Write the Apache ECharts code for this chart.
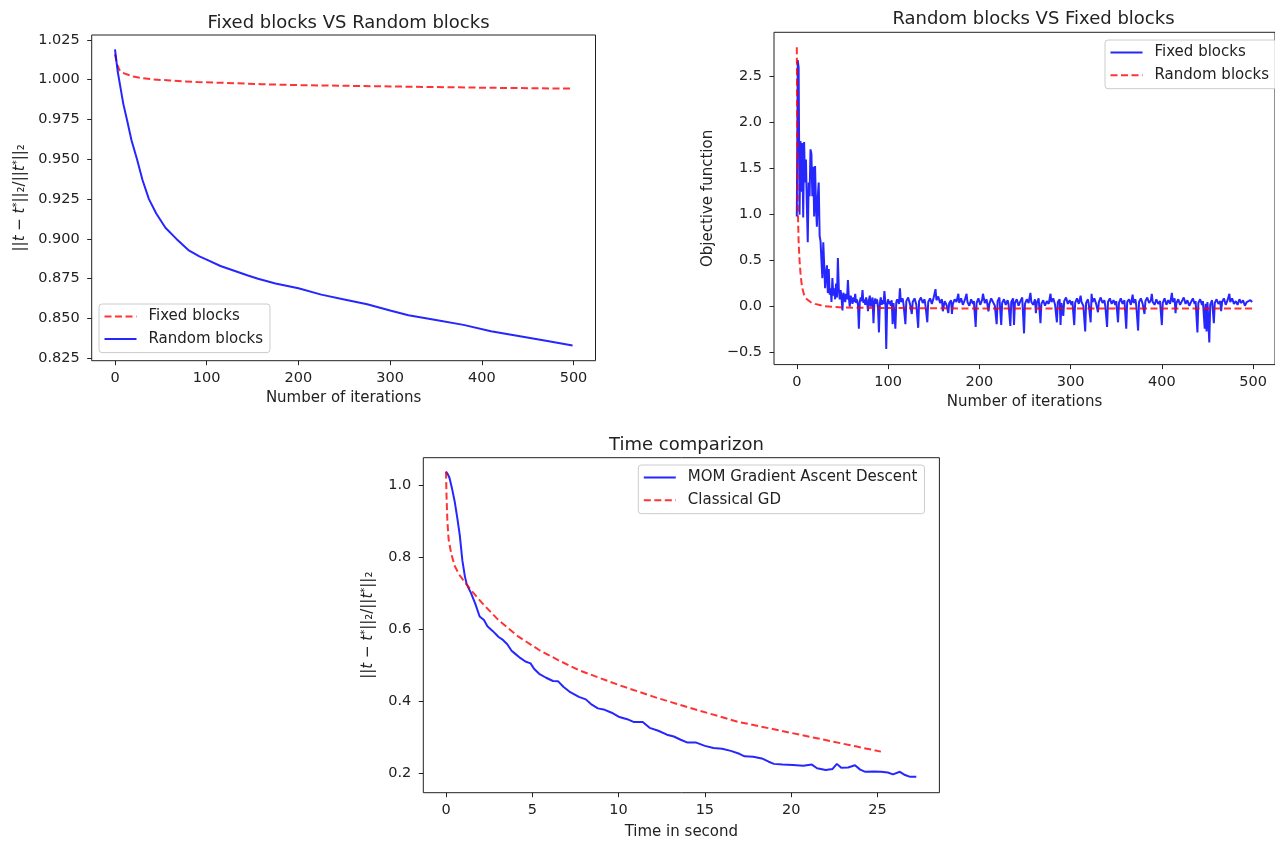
<!DOCTYPE html>
<html><head><meta charset="utf-8">
<script src="https://cdn.jsdelivr.net/npm/echarts@6.0.0/dist/echarts.min.js"></script>
<style>html,body{margin:0;padding:0;background:#fff}#c{width:1275px;height:841px}</style>
</head><body><div id="c"></div>
<script>
// ---------- Chart 1: Fixed blocks VS Random blocks ----------
const c1FixedIter = [0,2,5,10,15,20,30,40,60,90,120,160,200,250,300,350,400,450,499];
const c1FixedVal  = [1.016,1.010,1.006,1.004,1.003,1.002,1.001,1.0003,0.9995,0.9985,0.998,0.9972,0.9966,0.9962,0.9958,0.9954,0.995,0.9947,0.9944];
const c1RandomIter = [0,3,6,9,13,18,24,30,37,45,55,67,80,92,100,115,130,145,156,175,200,225,250,275,300,320,350,380,410,440,470,499];
const c1RandomVal  = [1.019,1.005,0.995,0.985,0.975,0.962,0.950,0.937,0.925,0.916,0.907,0.900,0.893,0.889,0.887,0.883,0.880,0.877,0.875,0.872,0.869,0.865,0.862,0.859,0.855,0.852,0.849,0.846,0.842,0.839,0.836,0.833];
const c1XTicks = [0,100,200,300,400,500];
const c1YTicks = [0.825,0.85,0.875,0.9,0.925,0.95,0.975,1.0,1.025];

// ---------- Chart 2: Random blocks VS Fixed blocks ----------
const c2FixedIter = [0,1,2,3,4,5,6,7,8,9,10,11,12,13,14,15,16,17,18,19,20,21,22,23,24,25,26,27,28,29,30,31,32,33,34,35,36,37,38,39,40,41,42,43,44,45,46,47,48,49,50,51,52,53,54,55,56,57,58,59,60,
61,62,63,64,65,66,67,68,69,70,71,72,73,74,75,76,77,78,79,80,81,82,83,84,85,86,87,88,89,90,91,92,93,94,95,96,97,98,99,100,
101,102,103,104,105,106,108,109,110,112,113,114,116,117,119,120,122,124,126,127,129,131,133,134,136,138,140,141,143,144,146,148,150,152,153,155,157,159,160,162,164,166,167,169,170,171,173,175,177,178,180,182,184,186,187,189,191,193,194,196,197,199,
201,203,204,206,208,210,211,213,215,217,219,220,222,224,225,227,229,231,232,234,235,237,238,239,241,243,245,247,249,250,252,254,256,257,259,261,262,263,265,267,268,270,272,274,276,278,279,281,283,285,286,288,289,290,292,293,295,297,299,
301,302,304,305,307,309,311,312,314,316,317,319,320,322,323,324,326,328,330,331,333,335,337,338,340,341,343,345,347,349,350,352,353,355,357,359,361,362,364,366,368,369,371,372,374,375,377,379,381,382,384,386,388,389,390,392,394,396,398,400,
401,403,405,407,409,411,412,414,415,416,418,420,422,424,426,428,430,432,434,436,437,439,440,442,444,445,447,448,449,450,452,453,455,457,458,460,462,464,465,466,468,470,472,474,475,477,479,481,483,485,487,489,491,493,495,497,499];
const c2FixedVal = [0.98,2.68,2.6,1.0,1.8,1.25,1.78,0.97,1.79,1.35,1.6,1.1,0.7,1.35,1.2,1.71,1.66,1.2,1.52,0.98,1.53,1.1,0.87,1.2,1.35,0.77,0.71,0.5,0.31,0.7,0.45,0.2,0.35,0.45,0.15,0.41,0.13,0.2,0.05,0.31,0.12,0.2,0.08,0.25,0.1,0.53,0.2,0.08,0.18,0.1,-0.04,0.15,0.12,0.05,0.14,0.08,0.29,0.1,0.0,0.12,0.08,
0.03,0.1,0.05,0.14,0.04,0.08,0.02,-0.24,0.05,0.1,0.06,0.18,0.04,0.08,0.02,0.1,0.05,-0.05,0.07,0.12,0.0,0.06,0.1,-0.18,0.05,0.09,0.03,0.08,-0.02,-0.28,0.04,0.1,0.02,0.07,0.03,0.17,0.05,-0.46,0.02,0.08,
0.03,0.06,0.01,0.07,-0.19,0.04,-0.24,0.05,0.08,0.03,0.2,0.05,0.09,0.02,-0.19,0.06,0.1,0.03,-0.08,0.05,0.09,0.02,-0.23,0.06,0.1,0.04,0.08,0.01,-0.17,0.05,0.09,0.03,0.1,0.19,0.07,0.11,0.04,0.08,-0.05,0.06,0.02,-0.07,0.04,0.07,-0.08,0.03,0.08,0.05,0.14,0.04,0.09,0.02,0.07,0.14,0.05,0.01,0.08,0.03,0.06,-0.22,0.04,0.09,
0.02,0.07,0.14,0.04,0.08,-0.05,0.03,0.09,0.05,0.01,-0.19,0.06,0.1,-0.2,0.04,0.08,0.02,0.07,0.03,-0.21,0.05,0.09,-0.2,0.04,0.08,0.01,0.06,0.1,-0.29,0.03,0.08,0.04,0.15,0.05,0.02,0.08,-0.07,0.04,0.09,-0.18,0.03,0.07,0.01,0.06,0.03,0.14,0.05,0.09,0.02,-0.17,0.05,0.08,-0.2,0.04,-0.1,0.06,0.1,0.03,0.07,
0.02,0.06,-0.2,0.04,0.09,0.03,0.12,0.05,0.01,-0.27,0.04,0.08,0.02,-0.17,0.14,0.05,0.09,0.03,-0.06,0.05,0.1,0.04,0.07,0.01,-0.22,0.05,0.09,0.03,0.07,0.02,0.06,-0.17,0.04,0.09,0.03,0.07,-0.24,0.05,0.08,0.02,0.13,0.04,0.08,0.01,-0.26,0.05,0.09,0.03,-0.08,0.06,0.1,0.04,0.07,0.14,0.05,0.02,0.08,0.03,0.06,-0.2,
0.04,0.09,0.02,0.07,0.03,0.15,0.05,0.09,-0.07,0.04,0.08,0.02,0.06,0.1,0.03,0.07,0.01,0.05,0.09,0.03,0.06,-0.28,0.04,0.08,0.02,0.06,-0.24,0.03,-0.27,0.05,-0.39,0.02,0.07,-0.18,0.04,0.08,0.03,0.06,-0.05,0.05,0.09,0.02,0.07,0.14,0.05,0.09,0.03,0.06,0.02,0.08,0.04,0.07,0.01,0.05,0.03,0.07,0.05];
const c2RandomIter = [0,1,2,3,4,5,6,8,10,15,20,30,50,100,200,300,400,499];
const c2RandomVal  = [2.82,1.1,0.7,0.5,0.37,0.27,0.2,0.13,0.09,0.05,0.03,0.005,-0.01,-0.015,-0.02,-0.02,-0.02,-0.02];
const c2YTicks = [-0.5,0,0.5,1.0,1.5,2.0,2.5];

// ---------- Chart 3: Time comparizon ----------
const c3MomTime = [0,0.1,0.2,0.35,0.5,0.65,0.8,0.95,1.1,1.2,1.45,1.7,1.95,2.2,2.4,2.7,3.05,3.3,3.55,3.8,4.0,4.3,4.6,4.9,5.1,5.4,5.8,6.2,6.5,6.8,7.2,7.7,8.1,8.4,8.8,9.2,9.6,10.0,10.5,10.9,11.4,11.8,12.3,12.8,13.2,13.6,14.0,14.5,15.0,15.5,16.0,16.5,17.0,17.3,17.8,18.3,18.7,19.0,19.5,20.1,20.7,21.2,21.5,22.0,22.4,22.65,22.9,23.3,23.7,24.0,24.3,24.8,25.2,25.6,25.9,26.3,26.6,26.9,27.25];
const c3MomVal  = [1.037,1.03,1.02,0.99,0.955,0.91,0.86,0.79,0.745,0.725,0.70,0.67,0.635,0.625,0.608,0.595,0.578,0.57,0.558,0.54,0.532,0.52,0.51,0.505,0.49,0.476,0.465,0.456,0.455,0.44,0.425,0.412,0.405,0.392,0.38,0.376,0.368,0.357,0.35,0.342,0.342,0.326,0.318,0.307,0.302,0.293,0.285,0.285,0.276,0.27,0.268,0.262,0.254,0.247,0.246,0.241,0.232,0.226,0.224,0.223,0.221,0.224,0.214,0.209,0.212,0.226,0.215,0.216,0.222,0.21,0.204,0.205,0.204,0.202,0.197,0.204,0.195,0.19,0.19];
const c3GdTime = [0,0.03,0.08,0.15,0.3,0.5,0.75,1.0,1.45,2.1,3.0,4.2,5.4,6.5,7.7,10.0,12.3,14.6,16.9,19.2,21.5,23.8,25.2];
const c3GdVal  = [1.037,0.97,0.9,0.85,0.81,0.776,0.752,0.736,0.708,0.672,0.627,0.579,0.542,0.514,0.486,0.445,0.408,0.375,0.343,0.32,0.297,0.274,0.26];
const c3XTicks = [0,5,10,15,20,25];
const c3YTicks = [0.2,0.4,0.6,0.8,1.0];

// ---------- build ----------
const FONT = 'DejaVu Sans';
const TXT = '#222';
const BLUE = 'rgba(0,0,255,0.85)';
const RED = 'rgba(255,0,0,0.8)';
const DASH = [7, 3.5];
const pairs = (xs, ys) => xs.map((x, i) => [x, ys[i]]);
const fmtMinus = d => v => (v < 0 ? '\u2212' + Math.abs(v).toFixed(d) : v.toFixed(d));

function valAxis(gridIndex, min, max, ticks, fmt, name, nameGap, isY) {
  return {
    type: 'value', gridIndex, min, max,
    axisLine: { show: false, onZero: false }, splitLine: { show: false },
    axisTick: { show: true, length: 4.5, inside: false, lineStyle: { color: TXT, width: 1 }, customValues: ticks },
    axisLabel: { customValues: ticks, margin: isY ? 12 : 10, fontSize: 14.5, color: TXT, fontFamily: FONT, formatter: fmt },
    name, nameLocation: 'middle', nameGap,
    nameTextStyle: { fontSize: 15, color: TXT, fontFamily: FONT,
      rich: { i: { fontStyle: 'italic', fontSize: 15, fontFamily: FONT, color: TXT },
              s: { fontSize: 10, fontFamily: FONT, color: TXT, verticalAlign: 'top' } } }
  };
}
const normName = '||{i|t} \u2212 {i|t}{s|*}||\u2082/||{i|t}{s|*}||\u2082';

function lineSeries(name, xi, data, color, dashed) {
  return {
    type: 'line', name, xAxisIndex: xi, yAxisIndex: xi, data, symbol: 'none', showSymbol: false,
    lineStyle: { color, width: 2, type: dashed ? DASH : 'solid' },
    itemStyle: { color }, emphasis: { disabled: true }, silent: true, clip: true
  };
}
function legendBox(names, left, top, gap) {
  return {
    data: names, orient: 'vertical', left, top, itemWidth: 32, itemHeight: 15, itemGap: gap,
    padding: [5, 7, 6, 4.5], borderColor: '#ccc', borderWidth: 1, borderRadius: 3,
    backgroundColor: 'rgba(255,255,255,0.8)', selectedMode: false,
    itemStyle: { opacity: 0, borderWidth: 0 },
    formatter: n => n.trim(),
    textStyle: { fontSize: 15, color: TXT, fontFamily: FONT, padding: [0, 0, 0, 7] }
  };
}

const titleStyle = { fontSize: 18, fontWeight: 'normal', color: TXT, fontFamily: FONT };
const chart = echarts.init(document.getElementById('c'), null, { renderer: 'canvas' });
chart.setOption({
  animation: false,
  backgroundColor: '#fff',
  title: [
    { text: 'Fixed blocks VS Random blocks', left: 343.5, top: 9, textAlign: 'center', textStyle: titleStyle },
    { text: 'Random blocks VS Fixed blocks', left: 1028.5, top: 5.5, textAlign: 'center', textStyle: titleStyle },
    { text: 'Time comparizon', left: 681.5, top: 431, textAlign: 'center', textStyle: titleStyle }
  ],
  grid: [
    { left: 91.7, top: 35, width: 503.8, height: 325.7, show: true, borderColor: TXT, borderWidth: 1, backgroundColor: 'transparent' },
    { left: 774, top: 32.3, width: 509, height: 332.3, show: true, borderColor: TXT, borderWidth: 1, backgroundColor: 'transparent' },
    { left: 423.3, top: 457.7, width: 516.1, height: 335, show: true, borderColor: TXT, borderWidth: 1, backgroundColor: 'transparent' }
  ],
  xAxis: [
    valAxis(0, -25.4, 524, c1XTicks, v => String(v), 'Number of iterations', 30, false),
    valAxis(1, -25, 524, c1XTicks, v => String(v), 'Number of iterations', 30, false),
    valAxis(2, -1.315, 28.59, c3XTicks, v => String(v), 'Time in second', 32, false)
  ],
  yAxis: [
    valAxis(0, 0.8235, 1.0281, c1YTicks, v => v.toFixed(3), normName, 64, true),
    valAxis(1, -0.63, 2.983, c2YTicks, fmtMinus(1), 'Objective function', 58, true),
    valAxis(2, 0.146, 1.0757, c3YTicks, v => v.toFixed(1), normName, 48, true)
  ],
  legend: [
    legendBox(['Fixed blocks', 'Random blocks'], 99, 304, 7.6),
    legendBox(['Fixed blocks ', 'Random blocks '], 1105, 40, 7.7),
    legendBox(['MOM Gradient Ascent Descent', 'Classical GD'], 638.3, 465, 7.7)
  ],
  series: [
    lineSeries('Fixed blocks', 0, pairs(c1FixedIter, c1FixedVal), RED, true),
    lineSeries('Random blocks', 0, pairs(c1RandomIter, c1RandomVal), BLUE, false),
    lineSeries('Fixed blocks ', 1, pairs(c2FixedIter, c2FixedVal), BLUE, false),
    lineSeries('Random blocks ', 1, pairs(c2RandomIter, c2RandomVal), RED, true),
    lineSeries('MOM Gradient Ascent Descent', 2, pairs(c3MomTime, c3MomVal), BLUE, false),
    lineSeries('Classical GD', 2, pairs(c3GdTime, c3GdVal), RED, true)
  ]
});
</script>
</body></html>
